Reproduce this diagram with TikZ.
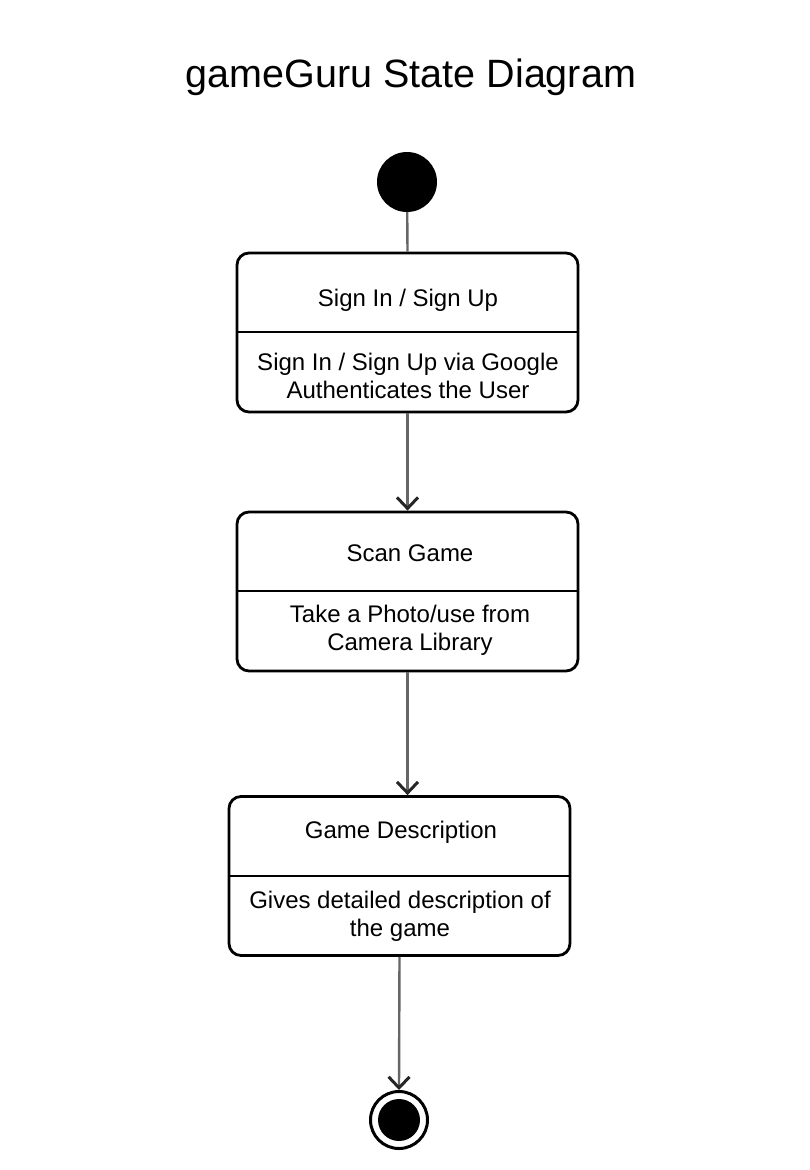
\documentclass[tikz,border=0pt]{standalone}
\usepackage{fontspec}
\setmainfont{Liberation Sans}
\usetikzlibrary{arrows.meta}
\begin{document}
\begin{tikzpicture}[x=1pt,y=-1pt,
  statebox/.style={draw=black,line width=2.8pt,rounded corners=12pt,minimum width=341pt,minimum height=159pt,inner sep=0pt},
  divider/.style={draw=black,line width=2.5pt},
  boxtext/.style={font=\fontsize{24}{28}\selectfont,align=center,inner sep=0pt},
  flow/.style={draw=black!60,line width=2.4pt,-{Straight Barb[length=11pt,width=21pt,line width=3pt,color=black!85]}},
  plain/.style={draw=black!60,line width=2.4pt}]
\useasboundingbox (0,0) rectangle (810,1170);
\node[font=\fontsize{39.5}{44}\selectfont,inner sep=0pt] (title) at (411,77) {gameGuru State Diagram};
% initial
\node[circle,fill=black,minimum size=60pt,inner sep=0pt] (init) at (407,182) {};
% state 1
\node[statebox] (s1) at (407.5,332.5) {};
\draw[divider] (s1.west |- 0,332) -- (s1.east |- 0,332);
\node[boxtext] (s1t) at (408,300) {Sign In / Sign Up};
\node[boxtext] (s1b) at (408,375.5) {Sign In / Sign Up via Google\\Authenticates the User};
% state 2
\node[statebox] (s2) at (407.5,591.5) {};
\draw[divider] (s2.west |- 0,591) -- (s2.east |- 0,591);
\node[boxtext] (s2t) at (410,553) {Scan Game};
\node[boxtext] (s2b) at (410,630) {Take a Photo/use from\\Camera Library};
% state 3
\node[statebox] (s3) at (399.5,876) {};
\draw[divider] (s3.west |- 0,876) -- (s3.east |- 0,876);
\node[boxtext] (s3t) at (401,832) {Game Description};
\node[boxtext] (s3b) at (400,916.5) {Gives detailed description of\\the game};
% final
\node[circle,draw=black,line width=3pt,minimum size=57pt,inner sep=0pt] (final) at (399,1120) {};
\node[circle,fill=black,minimum size=42pt,inner sep=0pt] (finalin) at (399,1120) {};
% connectors
\draw[plain] (init) -- (s1.north);
\draw[flow] (s1.south) -- (s2.north);
\draw[flow] (s2.south) -- (s3.north -| s2.south);
\draw[flow] (s3.south) -- (final.north);
\end{tikzpicture}
\end{document}
